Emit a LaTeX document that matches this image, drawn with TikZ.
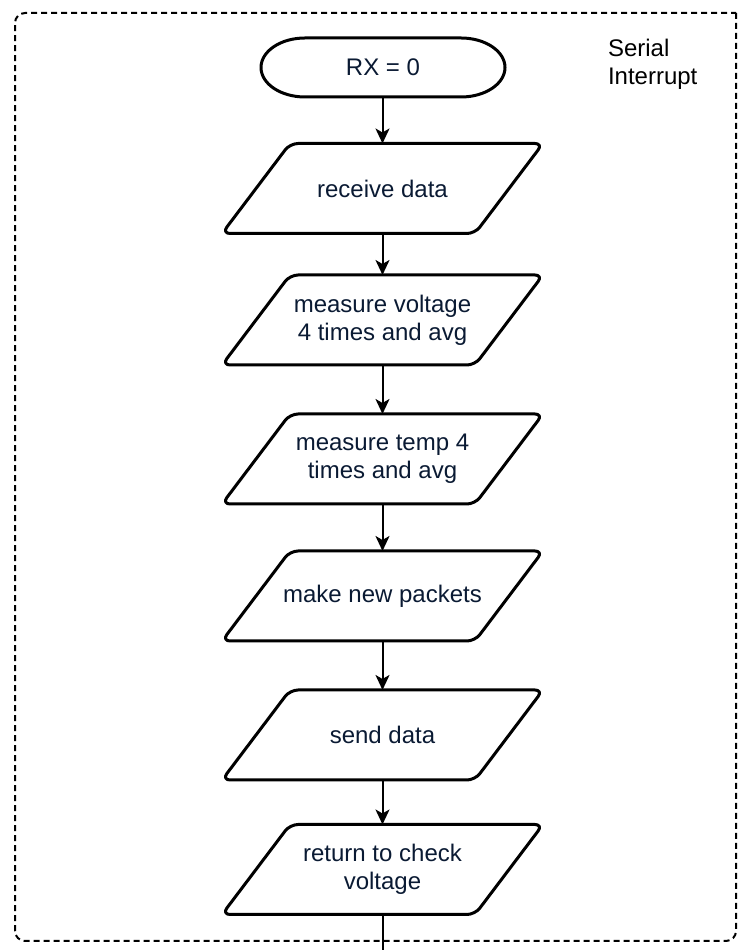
\documentclass[tikz,border=0pt]{standalone}
\usepackage{fontspec}
\setmainfont{Liberation Sans}
\usetikzlibrary{arrows.meta}
\definecolor{txt}{HTML}{0A1A33}
\begin{document}
\begin{tikzpicture}[x=1pt,y=1pt,
  shp/.style={line width=3pt, line join=round},
  lbl/.style={font=\fontsize{24}{28}\selectfont, text=txt, align=center, inner sep=0pt, outer sep=0pt},
  para/.style={lbl, minimum width=253pt, minimum height=90pt},
  conn/.style={line width=2pt, -{Stealth[length=15pt,width=14pt,inset=4pt]}},
  frame/.style={line width=2pt, dash pattern=on 6pt off 4pt}
]
\useasboundingbox (0,0) rectangle (752,950);
% dashed container
\draw[frame, rounded corners=10pt] (736,937) -- (736,9) -- (15,9) -- (15,937) -- (736,937);
\node[lbl, text=black, align=left, anchor=west] (lab) at (608,886) {Serial\\Interrupt};
% terminal
\node[lbl, minimum width=244pt, minimum height=59pt] (t) at (383,882.5) {RX = 0};
\draw[shp] ([xshift=44pt]t.north west) -- ([xshift=-44pt]t.north east)
  arc[start angle=90,end angle=-90,x radius=44pt,y radius=29.5pt]
  -- ([xshift=44pt]t.south west)
  arc[start angle=270,end angle=90,x radius=44pt,y radius=29.5pt] -- cycle;
% parallelograms
\node[para] (a) at (382.5,761.5) {receive data};
\node[para] (b) at (382.5,630) {measure voltage\\4 times and avg};
\node[para] (c) at (382.5,491) {measure temp 4\\times and avg};
\node[para] (d) at (382.5,354) {make new packets};
\node[para] (e) at (382.5,215) {send data};
\node[para] (f) at (382.5,80.5) {return to check\\voltage};
\foreach \n in {a,b,c,d,e,f}
  \draw[shp, rounded corners=8pt] ([xshift=-92.5pt]\n.north) -- ([xshift=160.5pt]\n.north)
    -- ([xshift=92.5pt]\n.south) -- ([xshift=-160.5pt]\n.south) -- cycle;
% connectors
\draw[conn] (t.south -| a.north) -- (a.north);
\draw[conn] (a) -- (b);
\draw[conn] (b) -- (c);
\draw[conn] (c) -- (d);
\draw[conn] (d) -- (e);
\draw[conn] (e) -- (f);
\coordinate (out) at (382.5,0);
\draw[line width=2pt] (f) -- (out);
\end{tikzpicture}
\end{document}
